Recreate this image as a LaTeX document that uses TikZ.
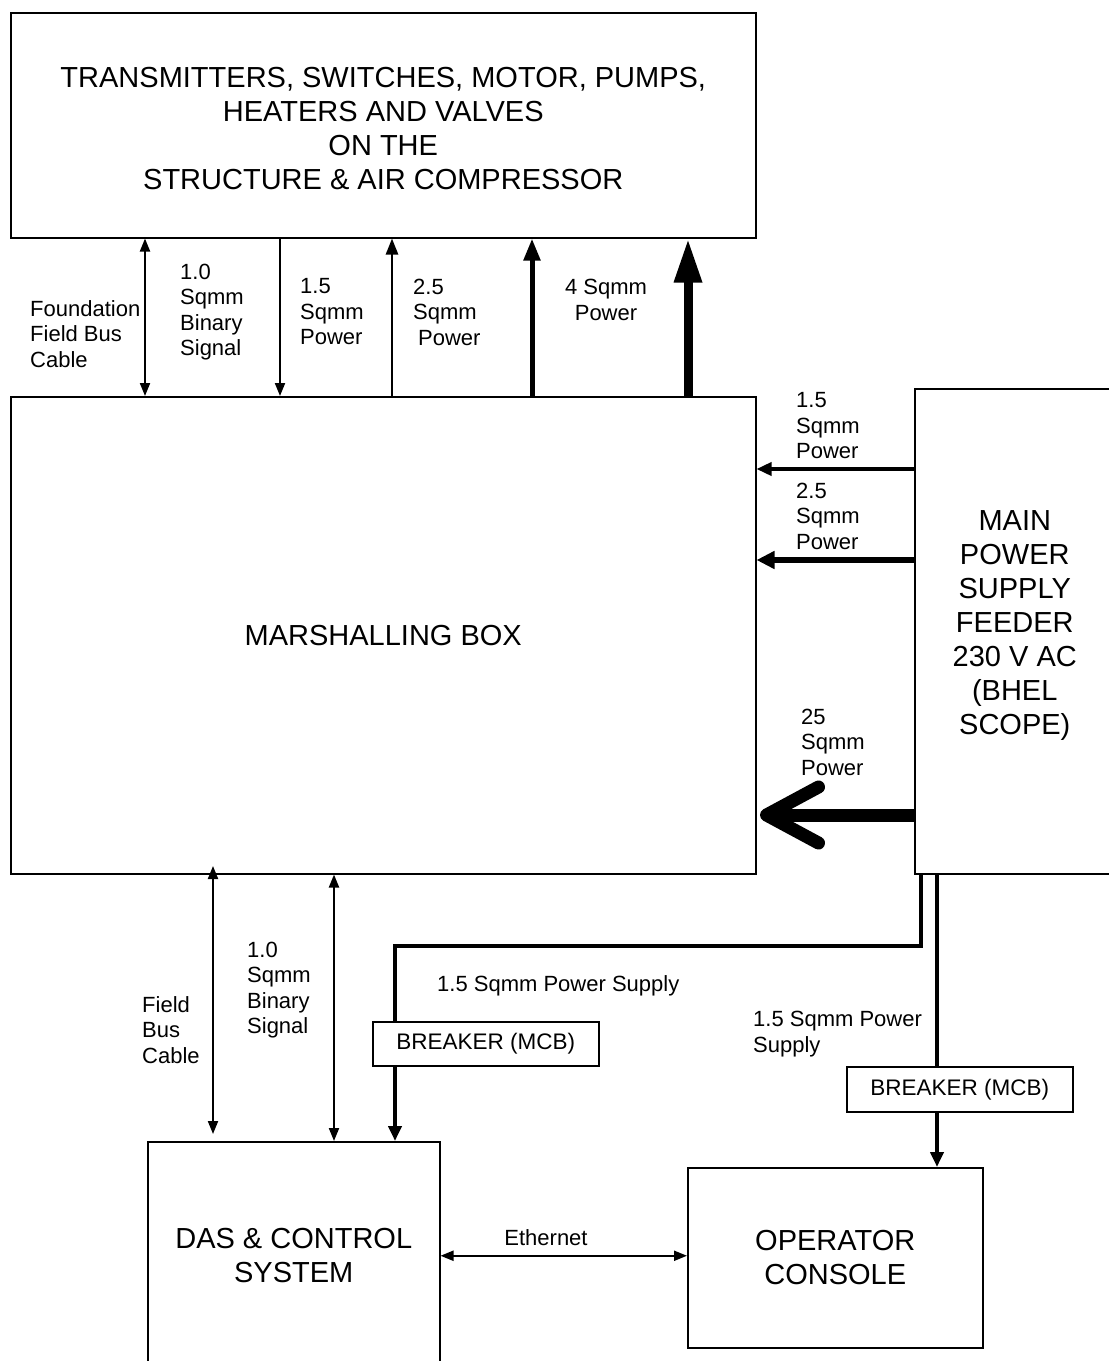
\documentclass[tikz,border=0pt]{standalone}
\usepackage{fontspec}
\setmainfont{Liberation Sans}
\usetikzlibrary{arrows.meta,calc}
\begin{document}
\begin{tikzpicture}[x=1pt,y=-1pt,
  box/.style={draw,line width=1.5pt,inner sep=0pt,align=center,font=\fontsize{29}{34}\selectfont},
  boxtext/.style={inner sep=0pt,align=center,font=\fontsize{29}{34}\selectfont},
  lbl/.style={inner sep=0pt,font=\fontsize{22}{25.5}\selectfont},
  brk/.style={draw,line width=1.5pt,inner sep=0pt,minimum width=226pt,minimum height=44pt,font=\fontsize{22.5}{25}\selectfont},
  thinline/.style={line width=2pt},
  pw/.style={line width=4pt},
  tipA/.tip={Triangle[width=10pt,length=13pt]},
  tipB/.tip={Triangle[width=12pt,length=16pt]},
  tipC/.tip={Triangle[width=16pt,length=22pt]},
  tipD/.tip={Triangle[width=26pt,length=44pt]},
  tipE/.tip={Triangle[width=13pt,length=15pt]},
  tipF/.tip={Triangle[width=17pt,length=18pt]}
]
\useasboundingbox (0,0) rectangle (1109,1361);
\clip (0,0) rectangle (1109,1361);
\fill[white] (0,0) rectangle (1109,1361);

% boxes
\node[box,minimum width=745pt,minimum height=225pt,anchor=north west] (top) at (10,12) {};
\node[boxtext] (toptext) at ($(top.center)+(0,3)$)
  {TRANSMITTERS, SWITCHES, MOTOR, PUMPS,\\HEATERS AND VALVES\\ON THE\\STRUCTURE \& AIR COMPRESSOR};
\node[box,minimum width=745pt,minimum height=477pt,anchor=north west] (mb) at (10,396) {MARSHALLING BOX};
\node[box,minimum width=200pt,minimum height=485pt,anchor=north west] (mp) at (914,388) {};
\node[boxtext] (mptext) at ($(mp.center)+(0,-6)$)
  {MAIN\\POWER\\SUPPLY\\FEEDER\\230 V AC\\(BHEL\\SCOPE)};
\node[box,minimum width=292pt,minimum height=228pt,anchor=north west] (das) at (147,1141) {DAS \& CONTROL\\SYSTEM};
\node[box,minimum width=295pt,minimum height=180pt,anchor=north west] (op) at (687,1167) {OPERATOR\\CONSOLE};
\node[brk,anchor=north west] (b1) at (372,1021) {BREAKER (MCB)};
\node[brk,anchor=north west,minimum height=45pt] (b2) at (846,1066) {BREAKER (MCB)};

% top connectors
\coordinate (c1) at (145,0);
\coordinate (c2) at (280,0);
\coordinate (c3) at (392,0);
\coordinate (c4) at (532,0);
\coordinate (c5) at (688,0);
\draw[thinline,tipA-tipA] (c1 |- top.south) -- (c1 |- mb.north);
\draw[thinline,-tipA] (c2 |- top.south) -- (c2 |- mb.north);
\draw[line width=2.5pt,-tipB] (c3 |- mb.north) -- (c3 |- top.south);
\draw[line width=5pt,-tipC] (c4 |- mb.north) -- (c4 |- top.south);
\draw[line width=9pt,-tipD] (c5 |- mb.north) -- (c5 |- top.south);

% right connectors
\coordinate (r1) at (0,469);
\coordinate (r2) at (0,560);
\coordinate (r3) at (0,815);
\draw[line width=3.5pt,-tipE] (mp.west |- r1) -- (mb.east |- r1);
\draw[line width=6pt,-tipF] (mp.west |- r2) -- (mb.east |- r2);
\draw[line width=13pt] (mp.west |- r3) -- ($(mb.east |- r3)+(14,0)$);
\draw[line width=13pt,line cap=round,line join=round]
  ($(mb.east |- r3)+(62,-28)$) -- ($(mb.east |- r3)+(10,0)$) -- ($(mb.east |- r3)+(62,28)$);

% bottom connectors
\coordinate (d1s) at (213,866);
\coordinate (d1e) at (213,1134);
\coordinate (d2) at (334,0);
\draw[thinline,tipA-tipA] (d1s) -- (d1e);
\draw[thinline,tipA-tipA] (d2 |- mb.south) -- (d2 |- das.north);

% power supply lines
\coordinate (p1) at (921,946);
\coordinate (p1b) at (395,946);
\draw[pw,line join=miter] (p1 |- mp.south) -- (p1) -- (p1b) -- (p1b |- b1.north);
\draw[pw,-tipE] (p1b |- b1.south) -- (p1b |- das.north);
\coordinate (p2) at (937,0);
\draw[pw] (p2 |- mp.south) -- (p2 |- b2.north);
\draw[pw,-tipE] (p2 |- b2.south) -- (p2 |- op.north);

% ethernet
\draw[thinline,tipA-tipA] (das.east) -- (op.west |- das.east);

% labels
\node[lbl,align=left,anchor=west] (l1) at (30,334) {Foundation\\Field Bus\\Cable};
\node[lbl,align=left,anchor=west] (l2) at (180,312) {1.0\\Sqmm\\Binary\\Signal};
\node[lbl,align=left,anchor=west] (l3) at (300,312) {1.5\\Sqmm\\Power};
\node[lbl,align=left,anchor=west] (l4) at (413,312) {2.5\\Sqmm\\\hspace*{5pt}Power};
\node[lbl,align=center] (l5) at (606,300) {4 Sqmm\\Power};
\node[lbl,align=left,anchor=west] (l6) at (796,426) {1.5\\Sqmm\\Power};
\node[lbl,align=left,anchor=west] (l7) at (796,516) {2.5\\Sqmm\\Power};
\node[lbl,align=left,anchor=west] (l8) at (801,742) {25\\Sqmm\\Power};
\node[lbl,align=left,anchor=west] (l9) at (142,1030) {Field\\Bus\\Cable};
\node[lbl,align=left,anchor=west] (l10) at (247,990) {1.0\\Sqmm\\Binary\\Signal};
\node[lbl,anchor=west] (l11) at (437,986) {1.5 Sqmm Power Supply};
\node[lbl,align=left,anchor=west] (l12) at (753,1034) {1.5 Sqmm Power\\Supply};
\node[lbl,font=\fontsize{22}{25}\selectfont] (l13) at (546,1238) {Ethernet};
\end{tikzpicture}
\end{document}
